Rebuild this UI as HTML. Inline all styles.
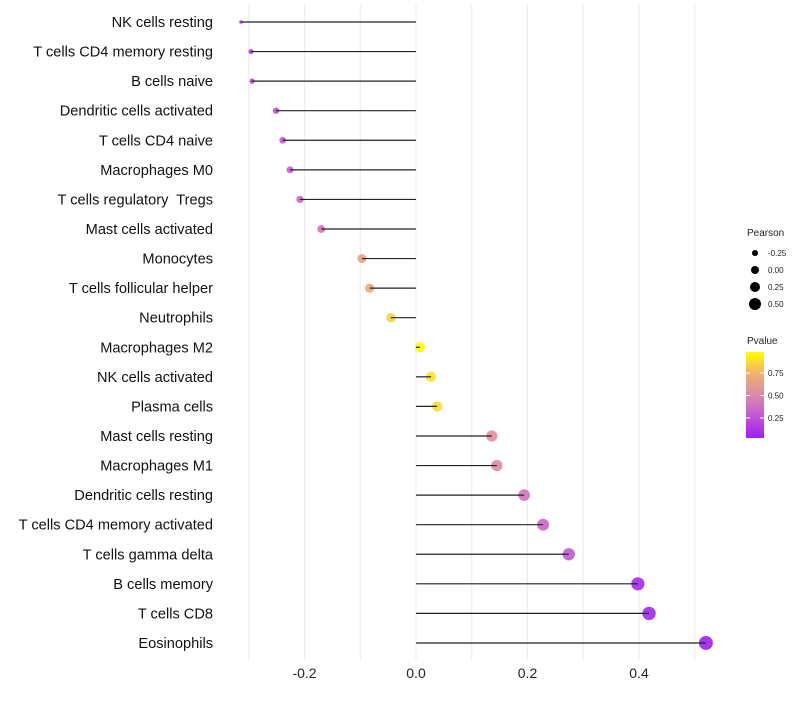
<!DOCTYPE html>
<html><head><meta charset="utf-8"><style>
body{margin:0;background:#fff;font-family:"Liberation Sans",sans-serif}
text{white-space:pre}
</style></head><body>
<svg id="chart" width="800" height="700" xmlns="http://www.w3.org/2000/svg">
<defs><linearGradient id="pg" x1="0" y1="1" x2="0" y2="0">
<stop offset="0" stop-color="#a020f0"/><stop offset="0.3" stop-color="#c860d0"/><stop offset="0.5" stop-color="#dc8aa8"/><stop offset="0.75" stop-color="#f0b070"/><stop offset="1" stop-color="#ffff00"/></linearGradient></defs>
<g id="grid"></g><g id="dots"></g><g id="marks"></g><g id="labels"></g><g id="legend"></g>
</svg>
<script>
const categories=["NK cells resting","T cells CD4 memory resting","B cells naive","Dendritic cells activated","T cells CD4 naive","Macrophages M0","T cells regulatory  Tregs","Mast cells activated","Monocytes","T cells follicular helper","Neutrophils","Macrophages M2","NK cells activated","Plasma cells","Mast cells resting","Macrophages M1","Dendritic cells resting","T cells CD4 memory activated","T cells gamma delta","B cells memory","T cells CD8","Eosinophils"];
const pearson=[-0.314,-0.296,-0.294,-0.251,-0.239,-0.226,-0.208,-0.170,-0.097,-0.083,-0.045,0.007,0.027,0.038,0.136,0.145,0.194,0.228,0.274,0.398,0.418,0.520];
const pvalue=[0.15,0.17,0.17,0.25,0.27,0.30,0.33,0.42,0.65,0.70,0.84,0.97,0.90,0.87,0.55,0.52,0.40,0.33,0.27,0.08,0.06,0.02];
const xTicks=[-0.2,0,0.2,0.4];
const xTickLabels=["-0.2","0.0","0.2","0.4"];
const sizeLegend=[-0.25,0,0.25,0.5];
const sizeLegendLabels=["-0.25","0.00","0.25","0.50"];
const pTicks=[0.25,0.5,0.75];
const pTickLabels=["0.25","0.50","0.75"];
const NS="http://www.w3.org/2000/svg";
const x=v=>416+v*557.5;
const y=i=>22+i*29.57;
const r=v=>1.8+5.2*Math.sqrt(Math.max(0,(v+0.314)/0.834));
function mk(t,a,p){const e=document.createElementNS(NS,t);for(const k in a)e.setAttribute(k,a[k]);p.appendChild(e);return e;}
const stops=[[0,[160,32,240]],[0.3,[200,96,208]],[0.5,[220,138,168]],[0.75,[240,176,112]],[1,[255,255,0]]];
function col(p){const t=(p-0.03)/(0.98-0.03);let c=Math.max(0,Math.min(1,t));for(let i=1;i<stops.length;i++){if(c<=stops[i][0]){const a=stops[i-1],b=stops[i],f=(c-a[0])/(b[0]-a[0]);return "rgb("+a[1].map((v,k)=>Math.round(v+(b[1][k]-v)*f)).join(",")+")";}}return "rgb(255,255,0)";}
const g=document.getElementById('grid'),m=document.getElementById('marks'),dg=document.getElementById('dots'),lb=document.getElementById('labels'),lg=document.getElementById('legend');
for(let v=-0.3;v<=0.55;v+=0.1){const l=mk('line',{x1:x(v),x2:x(v),y1:5,y2:660,stroke:'#ebebeb','stroke-width':1},g);}
xTicks.forEach((v,i)=>{const t=mk('text',{x:x(v),y:678,'text-anchor':'middle','font-size':14,fill:'#222'},lb);t.textContent=xTickLabels[i];});
categories.forEach((c,i)=>{
const t=mk('text',{x:213,y:y(i)+5,'text-anchor':'end','font-size':14.6,fill:'#111'},lb);t.textContent=c;

const d=mk('circle',{cx:x(pearson[i]),cy:y(i),r:r(pearson[i]),fill:col(pvalue[i]),'fill-opacity':0.9},dg);

const l=mk('line',{x1:x(0),x2:x(pearson[i]),y1:y(i),y2:y(i),stroke:'#222','stroke-width':1.2},m);

});
let t=mk('text',{x:747,y:236,'font-size':10,fill:'#222'},lg);t.textContent='Pearson';
sizeLegend.forEach((v,i)=>{const cy=253+i*17;const c=mk('circle',{cx:755,cy:cy,r:3+i,fill:'#000'},lg);
const tt=mk('text',{x:768,y:cy+3,'font-size':8,fill:'#222'},lg);tt.textContent=sizeLegendLabels[i];});
t=mk('text',{x:747,y:344,'font-size':10,fill:'#222'},lg);t.textContent='Pvalue';
const bar=mk('rect',{x:746,y:352,width:18,height:86,fill:'url(#pg)'},lg);
const py=p=>418-(p-0.25)*90;
pTicks.forEach((p,i)=>{mk('line',{x1:746,x2:750,y1:py(p),y2:py(p),stroke:'#fff'},lg);mk('line',{x1:760,x2:764,y1:py(p),y2:py(p),stroke:'#fff'},lg);
const tt=mk('text',{x:768,y:py(p)+3,'font-size':8,fill:'#222'},lg);tt.textContent=pTickLabels[i];});
</script>
</body></html>
